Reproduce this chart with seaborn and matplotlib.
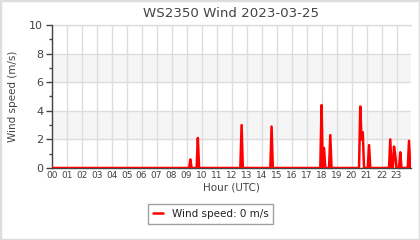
import matplotlib
matplotlib.use("Agg")
import matplotlib.pyplot as plt
from matplotlib.ticker import MultipleLocator, FixedLocator
import seaborn as sns
import pandas as pd

# Readings (hour of day, wind speed m/s)
hours = [0.0,
         9.167, 9.25, 9.333,
         9.667, 9.75, 9.833,
         12.583, 12.667, 12.75,
         14.583, 14.667, 14.75,
         17.917, 18.0, 18.083, 18.167, 18.25,
         18.5, 18.583, 18.667,
         20.5, 20.583, 20.667, 20.75, 20.833,
         21.083, 21.167, 21.25,
         22.5, 22.583, 22.667,
         22.75, 22.833, 22.917, 23.0,
         23.167, 23.25, 23.333,
         23.75, 23.833, 23.917]
speeds = [0.0,
          0.0, 0.6, 0.0,
          0.0, 2.1, 0.0,
          0.0, 3.0, 0.0,
          0.0, 2.9, 0.0,
          0.0, 4.4, 0.0, 1.4, 0.0,
          0.0, 2.3, 0.0,
          0.0, 4.3, 2.0, 2.5, 0.0,
          0.0, 1.6, 0.0,
          0.0, 2.0, 0.0,
          0.0, 1.5, 0.9, 0.0,
          0.0, 1.1, 0.0,
          0.0, 1.9, 0.0]
hour_labels = [f"{h:02d}" for h in range(24)]
title = "WS2350 Wind 2023-03-25"
series_label = "Wind speed: 0 m/s"

df = pd.DataFrame({"hour": hours, "speed": speeds})

sns.set_theme(style="white")
plt.rcParams["font.family"] = ["DejaVu Sans"]

txt = "#444444"
grid = "#dddddd"

fig = plt.figure(figsize=(4.2, 2.4), dpi=100)
ax = fig.add_axes([0.123, 0.30, 0.855, 0.596])

ax.axhspan(2, 4, color="#f5f5f5", zorder=0, lw=0)
ax.axhspan(6, 8, color="#f5f5f5", zorder=0, lw=0)

sns.lineplot(data=df, x="hour", y="speed", ax=ax, color="red", lw=1.8,
             label=series_label, zorder=3)

ax.set_xlim(0, 23.95)
ax.set_ylim(0, 10)
ax.xaxis.set_major_locator(FixedLocator(range(24)))
ax.set_xticklabels(hour_labels)
ax.yaxis.set_major_locator(MultipleLocator(2))
ax.yaxis.set_minor_locator(MultipleLocator(1))

ax.grid(True, axis="both", which="major", color=grid, lw=1, zorder=1)
ax.set_axisbelow(True)

for s in ["top", "right"]:
    ax.spines[s].set_visible(False)
ax.spines["left"].set_color(txt)
ax.spines["bottom"].set_color(txt)
ax.spines["left"].set_linewidth(1)
ax.spines["bottom"].set_linewidth(1)
ax.plot([0, 23.95], [10, 10], color=grid, lw=1, zorder=1, clip_on=False)

ax.tick_params(axis="y", which="major", direction="out", length=4, width=1,
               color=txt, labelsize=8, labelcolor=txt, pad=2, left=True)
ax.tick_params(axis="y", which="minor", direction="out", length=2.5, width=1,
               color=txt, left=True)
ax.tick_params(axis="x", which="major", length=0, labelsize=6.5,
               labelcolor=txt, pad=2)

ax.set_title(title, fontsize=9.6, color=txt, pad=6)
ax.set_xlabel("Hour (UTC)", fontsize=7.5, color=txt, labelpad=2)
ax.set_ylabel("Wind speed (m/s)", fontsize=7.5, color=txt, labelpad=8)

ax.legend(loc="center", bbox_to_anchor=(210.5 / 420, 1 - 214 / 240),
          bbox_transform=fig.transFigure, frameon=True, fancybox=False,
          edgecolor="#888888", fontsize=7.5, handlelength=1.0,
          borderpad=0.5, labelcolor="#222222")
leg = ax.get_legend()
leg.get_frame().set_linewidth(1)

fig.patches.append(plt.Rectangle((0, 0), 1, 1, transform=fig.transFigure,
                                 fill=False, edgecolor="#dddddd", lw=2.5))

fig.savefig("out.png", dpi=100)
